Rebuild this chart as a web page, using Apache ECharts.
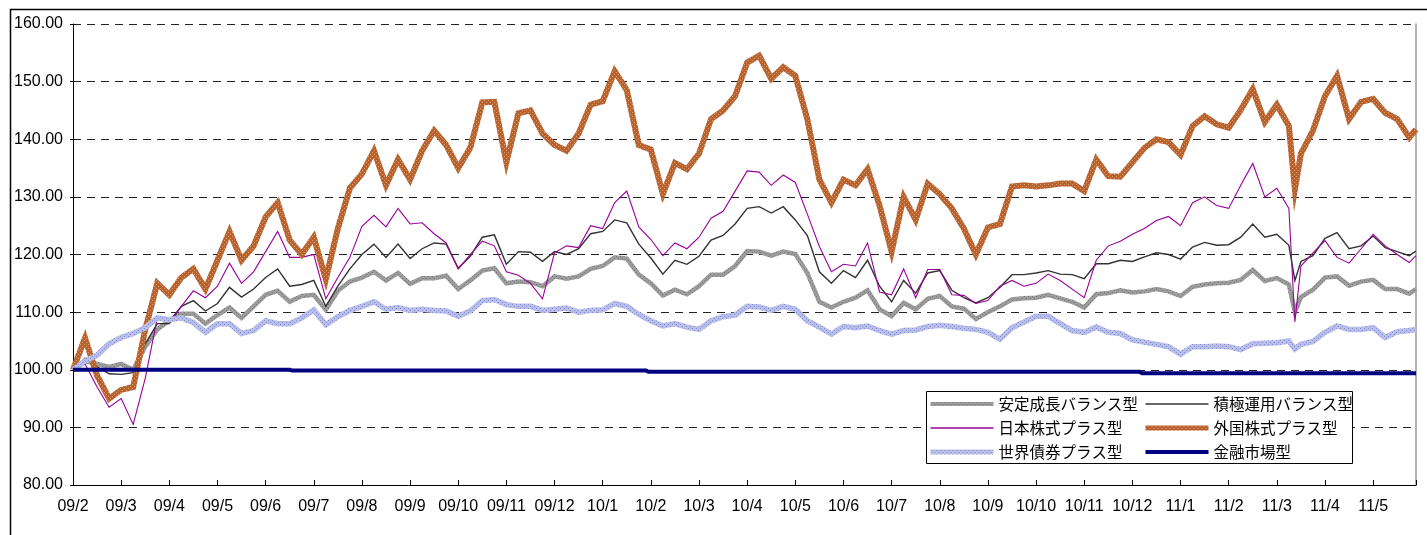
<!DOCTYPE html>
<html>
<head>
<meta charset="utf-8">
<script src="https://cdn.jsdelivr.net/npm/echarts@6/dist/echarts.min.js"></script>
<style>
html,body{margin:0;padding:0;background:#fff;}
#chart{width:1427px;height:535px;}
</style>
</head>
<body>
<div id="chart"></div>
<script>
// Month tick labels (one per month, starting 2009/2)
const monthLabels = ['09/2','09/3','09/4','09/5','09/6','09/7','09/8','09/9','09/10','09/11','09/12',
  '10/1','10/2','10/3','10/4','10/5','10/6','10/7','10/8','10/9','10/10','10/11','10/12',
  '11/1','11/2','11/3','11/4','11/5'];

// Sample positions in months since 2009/2 (weekly, plus the 2011/3 crash point and the last day)
const samplePos = [];
for (let i = 0; i < 112; i++) {
  samplePos.push(i / 4);
  if (i === 101) samplePos.push(25.375);
}
samplePos.push(27.89);

const seriesNames = ['安定成長バランス型','積極運用バランス型','日本株式プラス型','外国株式プラス型','世界債券プラス型','金融市場型'];

const anteiSeichou = [
  100, 101.5, 101, 100.5,
  101, 100, 104, 107,
  108.5, 109.7, 109.7, 108,
  109.5, 110.8, 109, 111,
  113, 113.7, 111.8, 112.8,
  113, 110.4, 113.7, 115.3,
  116, 117, 115.5, 116.8,
  114.9, 115.9, 115.9, 116.3,
  114, 115.5, 117.2, 117.6,
  115, 115.3, 115.2, 114.5,
  116.2, 115.8, 116.2, 117.5,
  118, 119.5, 119.3, 116.5,
  115, 112.9, 113.9, 113.1,
  114.5, 116.5, 116.5, 118,
  120.6, 120.5, 119.8, 120.5,
  120.1, 116.8, 111.8, 110.8,
  111.8, 112.5, 113.8, 110.5,
  109.3, 111.6, 110.5, 112.3,
  112.8, 111, 110.6, 108.8,
  110, 111, 112.2, 112.4,
  112.5, 113, 112.4, 111.8,
  110.8, 113.1, 113.3, 113.8,
  113.4, 113.6, 114, 113.6,
  112.8, 114.4, 114.8, 115,
  115.1, 115.6, 117.3, 115.4,
  115.9, 114.8, 110, 112.6, 113.9,
  116, 116.2, 114.6, 115.3,
  115.6, 114, 114, 113.2, 114
];

const sekkyokuUnyou = [
  100, 102, 100.5, 99.3,
  99.2, 99.5, 104.5, 108,
  108, 111, 112, 110.2,
  111.5, 114.3, 112.6, 114,
  116, 117.5, 114.5, 114.8,
  115.5, 111, 114.5, 117.5,
  120, 121.8, 119.5, 121.8,
  119.3, 121, 122, 121.8,
  117.6, 119.7, 123, 123.4,
  118.3, 120.5, 120.4, 118.8,
  120.5, 120, 121, 123.6,
  124, 126, 125.5, 121.8,
  119.4, 116.6, 119, 118.3,
  119.7, 122.5, 123.3, 125.3,
  128, 128.3, 127.2, 128.3,
  126, 123.3, 117, 115,
  117.2, 116, 119, 114.5,
  111.8, 115.5, 113.3, 116.8,
  117.2, 113.8, 112.5, 111.6,
  112.5, 114.3, 116.5, 116.5,
  116.8, 117.2, 116.6, 116.5,
  115.8, 118.4, 118.4, 119,
  118.8, 119.6, 120.3, 120,
  119.2, 121.3, 122.1, 121.6,
  121.7, 123, 125.3, 123,
  123.5, 121.6, 115.5, 118.8, 119.8,
  122.8, 123.8, 121, 121.5,
  123.2, 121.2, 120.5, 119.8, 120.6
];

const nihonKabushiki = [
  100, 101, 97, 93.5,
  95, 90.5, 98.5, 109,
  108.5, 111, 113.7, 112.5,
  114.5, 118.5, 115, 117,
  120.5, 124, 119.5, 119.5,
  120, 112.3, 116, 119.5,
  124.9, 126.8, 124.8, 128,
  125.3, 125.5, 123.6, 122,
  117.5, 120, 122.3, 121.5,
  117, 116.4, 115, 112.3,
  120.3, 121.5, 121.2, 125,
  124.5, 129, 131, 124.8,
  122.6, 119.8, 122, 121,
  123, 126.3, 127.5, 131,
  134.5, 134.3, 132, 133.8,
  132.5, 127, 121.4, 117,
  118.3, 118, 122, 113.5,
  113, 117.5, 112.5, 117.4,
  117.4, 113, 112.9, 111.5,
  112, 114.5, 115.5, 114.5,
  115, 116.6, 115.5, 114,
  112.5, 119, 121.5, 122.3,
  123.5, 124.5, 125.9, 126.6,
  125, 129, 130, 128.5,
  128, 132, 135.8, 130,
  131.5, 128, 108.3, 118, 120.3,
  122.4, 119.5, 118.5, 121,
  123.5, 121.5, 120, 118.6, 119.8
];

const gaikokuKabushiki = [
  100, 105.5, 99, 95,
  96.5, 97, 107, 115,
  113, 116, 117.5, 114,
  119, 124, 119, 121.5,
  126.5, 129, 122.5, 120,
  123, 115.7, 124.5, 131.5,
  134, 138, 132, 136.5,
  133, 138, 141.5, 139,
  135, 138.5, 146.4, 146.5,
  136, 144.5, 145, 141,
  139, 138, 141, 146,
  146.6, 151.8, 148.5, 139,
  138.2, 130.5, 135.9, 134.8,
  137.5, 143.5, 145, 147.5,
  153.3, 154.5, 150.5, 152.5,
  151, 143.5, 133, 129,
  133, 132, 134.8, 128.5,
  120.5, 130, 126, 132.3,
  130.5, 128, 124.5, 120,
  124.7, 125.3, 131.8, 132,
  131.8, 132, 132.3, 132.3,
  131, 136.5, 133.6, 133.5,
  136, 138.5, 140, 139.5,
  137.3, 142.3, 144, 142.6,
  142, 145.1, 148.7, 143,
  146, 142.3, 131.3, 137.5, 141.5,
  147.5, 151, 143.5, 146.5,
  147, 144.6, 143.5, 140.3, 141.7
];

const sekaiSaiken = [
  100, 101.5, 102.5, 104.5,
  105.6, 106.3, 107.3, 109,
  108.7, 109, 108.2, 106.5,
  108, 108, 106.3, 106.8,
  108.5, 108, 108, 109,
  110.4, 107.8, 109.2, 110.3,
  111, 111.8, 110.5, 110.8,
  110.3, 110.5, 110.3, 110.2,
  109.3, 110.2, 112, 112.2,
  111.3, 111, 111, 110.3,
  110.5, 110.7, 110, 110.3,
  110.4, 111.5, 111, 109.6,
  108.5, 107.6, 108, 107.4,
  107, 108.5, 109.2, 109.5,
  111, 110.9, 110.3, 111,
  110.5, 108.5, 107.4, 106.2,
  107.5, 107.3, 107.6, 106.8,
  106.2, 106.8, 106.9, 107.5,
  107.7, 107.5, 107.2, 107,
  106.5, 105.3, 107.3, 108.3,
  109.3, 109.3, 108, 106.8,
  106.5, 107.4, 106.5, 106.3,
  105.2, 104.8, 104.4, 104,
  102.7, 104, 104, 104.1,
  104, 103.5, 104.5, 104.6,
  104.7, 105, 103.6, 104.4, 104.9,
  106.5, 107.6, 107, 107,
  107.3, 105.6, 106.6, 106.8, 107
];

// Money market fund: steps only
const kinyuPos = [0, 4.5, 4.55, 11.9, 11.95, 22.15, 22.2, 27.89];
const kinyuShijou = [100, 100, 99.85, 99.85, 99.65, 99.65, 99.4, 99.4];

const yTicks = { min: 80, max: 160, step: 10 };

function pairs(xs, ys) { return xs.map((x, i) => [x, ys[i]]); }

function pattern(base, dot) {
  const cv = document.createElement('canvas');
  cv.width = 4; cv.height = 4;
  const g = cv.getContext('2d');
  g.fillStyle = base; g.fillRect(0, 0, 4, 4);
  g.fillStyle = dot; g.fillRect(0, 0, 1, 1); g.fillRect(2, 2, 1, 1);
  return { image: cv, repeat: 'repeat' };
}

const styles = [
  { color: pattern('#9c9c9c', '#7a7a7a'), width: 4.5, legendWidth: 4 },
  { color: '#333333', width: 1.4, legendWidth: 1.3 },
  { color: '#990099', width: 1.1, legendWidth: 1.3 },
  { color: pattern('#b8622f', '#d99a6c'), width: 6, legendWidth: 5 },
  { color: pattern('#b9bee9', '#8a90d6'), width: 5.5, legendWidth: 5 },
  { color: '#000080', width: 4, legendWidth: 4 }
];

const chart = echarts.init(document.getElementById('chart'), null, { renderer: 'canvas' });

const lineSeries = (idx, data) => ({
  name: seriesNames[idx], type: 'line', data, symbol: 'none', showSymbol: false,
  lineStyle: { color: styles[idx].color, width: styles[idx].width, join: 'miter' },
  itemStyle: { color: styles[idx].color },
  animation: false, silent: true
});

const legendText = { fontSize: 15.5, fontFamily: '"Noto Sans CJK JP", sans-serif', color: '#000', lineHeight: 16 };
const numFont = '"Liberation Sans", Arial, sans-serif';
const legendItem = (idx) => ({
  name: seriesNames[idx],
  itemStyle: { opacity: 0 },
  lineStyle: { width: styles[idx].legendWidth, color: styles[idx].color }
});

const option = {
  backgroundColor: '#fff',
  animation: false,
  grid: { left: 73, top: 24, right: 11, bottom: 50, containLabel: false },
  xAxis: {
    type: 'value', min: 0, max: 27.89, interval: 1,
    axisLine: { show: true, onZero: false, lineStyle: { color: '#000', width: 1 } },
    axisTick: { show: true, inside: true, length: 5, lineStyle: { color: '#000' } },
    axisLabel: {
      margin: 14, color: '#000', fontSize: 16, fontFamily: numFont,
      formatter: (v) => (Math.abs(v - Math.round(v)) < 1e-6 && monthLabels[Math.round(v)]) ? monthLabels[Math.round(v)] : ''
    },
    splitLine: { show: false }
  },
  yAxis: [{
    type: 'value', min: yTicks.min, max: yTicks.max, interval: yTicks.step,
    axisLine: { show: true, onZero: false, lineStyle: { color: '#000', width: 1 } },
    axisTick: { show: true, inside: false, length: 3, lineStyle: { color: '#000' } },
    axisLabel: { margin: 10, color: '#000', fontSize: 16, fontFamily: numFont,
      formatter: (v) => v.toFixed(2) },
    splitLine: { show: true, lineStyle: { color: '#222', type: [8, 6], width: 1 } }
  }, {
    type: 'value', min: yTicks.min, max: yTicks.max, interval: yTicks.step, position: 'right',
    axisLine: { show: true, onZero: false, lineStyle: { color: '#999', width: 1.5 } },
    axisTick: { show: false }, axisLabel: { show: false }, splitLine: { show: false }
  }],
  legend: [{
    left: 928, top: 396, orient: 'vertical', padding: 0, z: 20,
    itemWidth: 63, itemHeight: 8, itemGap: 8,
    itemStyle: { opacity: 0 },
    textStyle: legendText,
    data: [legendItem(0), legendItem(2), legendItem(4)]
  }, {
    left: 1143, top: 396, orient: 'vertical', padding: 0, z: 20,
    itemWidth: 63, itemHeight: 8, itemGap: 8,
    itemStyle: { opacity: 0 },
    textStyle: legendText,
    data: [legendItem(1), legendItem(3), legendItem(5)]
  }],
  graphic: [
    { type: 'rect', shape: { x: 10.5, y: 9.5, width: 1440, height: 560 },
      style: { fill: 'none', stroke: '#000', lineWidth: 1.5 }, silent: true, z: 100 },
    { type: 'rect', shape: { x: 926.5, y: 391.5, width: 426, height: 72 },
      style: { fill: '#fff', stroke: '#000', lineWidth: 1 }, silent: true, z: 10 }
  ],
  series: [
    lineSeries(0, pairs(samplePos, anteiSeichou)),
    lineSeries(1, pairs(samplePos, sekkyokuUnyou)),
    lineSeries(2, pairs(samplePos, nihonKabushiki)),
    lineSeries(3, pairs(samplePos, gaikokuKabushiki)),
    lineSeries(4, pairs(samplePos, sekaiSaiken)),
    lineSeries(5, pairs(kinyuPos, kinyuShijou))
  ]
};
chart.setOption(option);
</script>
</body>
</html>
